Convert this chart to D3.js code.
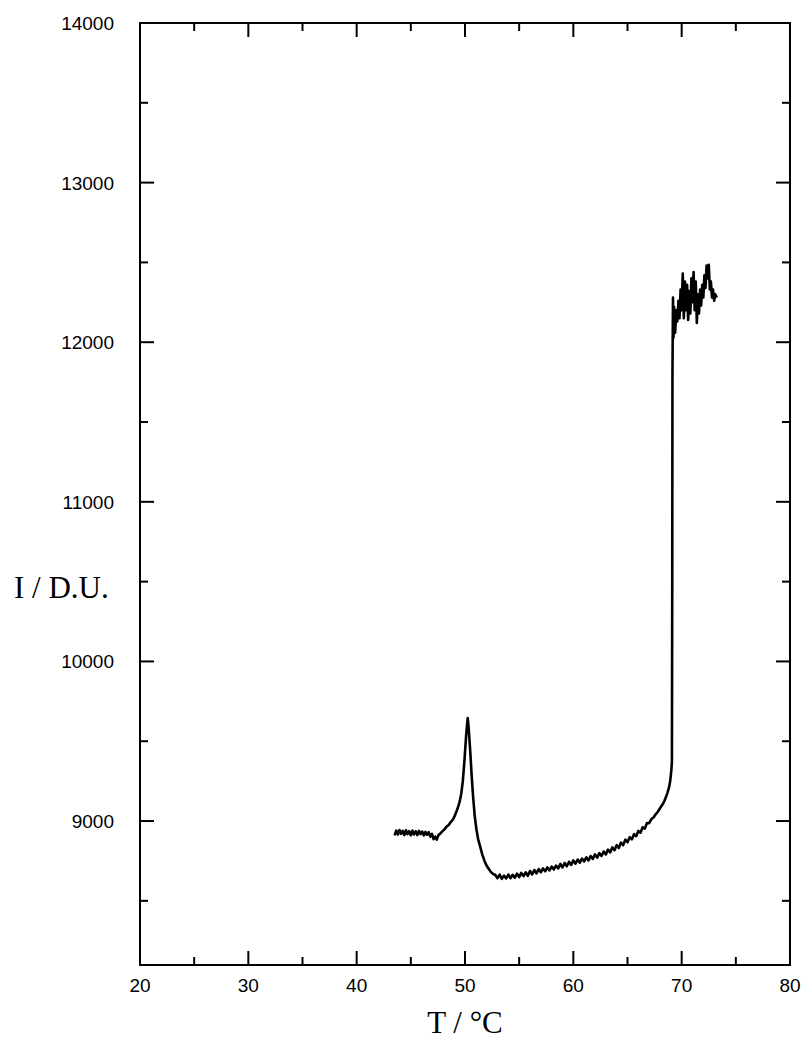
<!DOCTYPE html>
<html>
<head>
<meta charset="utf-8">
<script src="https://cdn.jsdelivr.net/npm/d3@7"></script>
<style>
  body { margin: 0; background: #fff; }
  svg { display: block; }
</style>
</head>
<body>
<svg id="chart" width="806" height="1050"></svg>
<script>
// temperature (°C) and intensity (D.U.)
var temps = [
  43.5, 43.65, 43.8, 43.95, 44.1, 44.25, 44.4, 44.55, 44.7, 44.85, 45.0, 45.15, 45.3, 45.45, 45.6,
  45.75, 45.9, 46.05, 46.2, 46.35, 46.5, 46.65, 46.8, 46.95, 47.1, 47.25, 47.4, 47.55, 47.7,
  47.9, 48.1, 48.3, 48.5, 48.7, 48.9, 49.1, 49.3, 49.5, 49.65, 49.8, 49.95, 50.1, 50.2, 50.25,
  50.32, 50.4, 50.5, 50.6, 50.75, 50.9, 51.05, 51.2, 51.4, 51.6, 51.8, 52.0, 52.2, 52.4, 52.6,
  52.8, 53.0, 53.2, 53.4, 53.6, 53.8, 54.0, 54.2, 54.4, 54.6, 54.8, 55.0, 55.2, 55.4, 55.6, 55.8,
  56.0, 56.2, 56.4, 56.6, 56.8, 57.0, 57.2, 57.4, 57.6, 57.8, 58.0, 58.2, 58.4, 58.6, 58.8,
  59.0, 59.2, 59.4, 59.6, 59.8, 60.0, 60.2, 60.4, 60.6, 60.8, 61.0, 61.2, 61.4, 61.6, 61.8,
  62.0, 62.2, 62.4, 62.6, 62.8, 63.0, 63.2, 63.4, 63.6, 63.8, 64.0, 64.2, 64.4, 64.6, 64.8,
  65.0, 65.2, 65.4, 65.6, 65.8, 66.0, 66.2, 66.4, 66.6, 66.8, 67.0, 67.2, 67.4, 67.6, 67.8,
  68.0, 68.2, 68.4, 68.55, 68.7, 68.85, 68.95, 69.05, 69.1, 69.13, 69.15,
  69.17, 69.2, 69.25, 69.3, 69.4, 69.5, 69.6, 69.7, 69.8, 69.9, 70.0, 70.1, 70.2, 70.3, 70.4,
  70.5, 70.6, 70.7, 70.8, 70.9, 71.0, 71.1, 71.2, 71.3, 71.4, 71.5, 71.6, 71.7, 71.8, 71.9,
  72.0, 72.1, 72.2, 72.3, 72.4, 72.5, 72.6, 72.7, 72.8, 72.9, 73.0, 73.1, 73.25
];
var intensity = [
  8910, 8940, 8916, 8944, 8920, 8938, 8912, 8942, 8918, 8937, 8910, 8940, 8916, 8936, 8912,
  8938, 8918, 8934, 8910, 8932, 8914, 8930, 8902, 8920, 8886, 8902, 8884, 8912, 8920,
  8935, 8948, 8965, 8975, 8995, 9010, 9040, 9075, 9120, 9170, 9250, 9380, 9530, 9610, 9645,
  9600, 9520, 9420, 9300, 9150, 9030, 8950, 8890, 8840, 8790, 8750, 8720, 8700, 8680, 8668,
  8662, 8642, 8664, 8638, 8658, 8640, 8665, 8642, 8663, 8645, 8671, 8649, 8675, 8655, 8679, 8657,
  8687, 8665, 8693, 8672, 8699, 8679, 8703, 8685, 8709, 8691, 8715, 8697, 8721, 8703, 8731,
  8709, 8737, 8717, 8745, 8725, 8753, 8733, 8759, 8739, 8765, 8747, 8773, 8753, 8781, 8763,
  8791, 8771, 8799, 8781, 8809, 8791, 8821, 8803, 8835, 8817, 8849, 8831, 8865, 8849, 8883,
  8867, 8899, 8885, 8918, 8905, 8938, 8927, 8961, 8953, 8988, 8987, 9012, 9022, 9042, 9058,
  9080, 9100, 9125, 9150, 9180, 9215, 9255, 9320, 9370, 10500, 11800,
  11990, 12280, 12030, 12220, 12060, 12200, 12130, 12260, 12150, 12330, 12200, 12430, 12150, 12380, 12200,
  12360, 12140, 12320, 12180, 12400, 12250, 12440, 12200, 12380, 12120, 12300, 12180, 12330, 12230, 12360,
  12280, 12420, 12340, 12480, 12400, 12485, 12330, 12380, 12280, 12330, 12260, 12300, 12280
];

var xTicks = [20, 30, 40, 50, 60, 70, 80];
var yTicks = [9000, 10000, 11000, 12000, 13000, 14000];
var xMinor = [25, 35, 45, 55, 65, 75];
var yMinor = [8500, 9500, 10500, 11500, 12500, 13500];

var svg = d3.select("#chart");
var plotL = 140, plotR = 790, plotT = 23, plotB = 965;

var x = d3.scaleLinear().domain([20, 80]).range([plotL, plotR]);
var y = d3.scaleLinear().domain([8098, 14000]).range([plotB, plotT]);

var data = temps.map(function(t, i) { return [t, intensity[i]]; });

var g = svg.append("g");

// inward ticks on all four sides
function ticks(sel, vals, len, horizontal) {
  vals.forEach(function(v) {
    if (horizontal) {
      sel.append("line").attr("x1", x(v)).attr("x2", x(v)).attr("y1", plotB).attr("y2", plotB - len);
      sel.append("line").attr("x1", x(v)).attr("x2", x(v)).attr("y1", plotT).attr("y2", plotT + len);
    } else {
      sel.append("line").attr("y1", y(v)).attr("y2", y(v)).attr("x1", plotL).attr("x2", plotL + len);
      sel.append("line").attr("y1", y(v)).attr("y2", y(v)).attr("x1", plotR).attr("x2", plotR - len);
    }
  });
}
var tg = g.append("g").attr("stroke", "#000").attr("stroke-width", 2);
ticks(tg, xTicks, 14, true);
ticks(tg, xMinor, 8, true);
ticks(tg, yTicks, 14, false);
ticks(tg, yMinor, 8, false);

// the trace
g.append("path")
  .datum(data)
  .attr("fill", "none")
  .attr("stroke", "#000")
  .attr("stroke-width", 2.6)
  .attr("stroke-linejoin", "round")
  .attr("d", d3.line().x(function(d) { return x(d[0]); }).y(function(d) { return y(d[1]); }));

// frame
g.append("rect")
  .attr("x", plotL).attr("y", plotT)
  .attr("width", plotR - plotL).attr("height", plotB - plotT)
  .attr("fill", "none").attr("stroke", "#000").attr("stroke-width", 2);

// tick labels
g.selectAll(".xl").data(xTicks).enter().append("text")
  .attr("x", function(d) { return x(d); })
  .attr("y", plotB + 27)
  .attr("text-anchor", "middle")
  .style("font-family", "Liberation Sans, Arial, sans-serif")
  .style("font-size", "19px")
  .text(function(d) { return d; });

g.selectAll(".yl").data(yTicks).enter().append("text")
  .attr("x", plotL - 26)
  .attr("y", function(d) { return y(d) + 7; })
  .attr("text-anchor", "end")
  .style("font-family", "Liberation Sans, Arial, sans-serif")
  .style("font-size", "19px")
  .text(function(d) { return d; });

// axis titles
svg.append("text")
  .attr("x", 465).attr("y", 1033)
  .attr("text-anchor", "middle")
  .style("font-family", "Liberation Serif, Times New Roman, serif")
  .style("font-size", "31px")
  .text("T / °C");

svg.append("text")
  .attr("x", 14).attr("y", 598)
  .style("font-family", "Liberation Serif, Times New Roman, serif")
  .style("font-size", "31px")
  .text("I / D.U.");
</script>
</body>
</html>
